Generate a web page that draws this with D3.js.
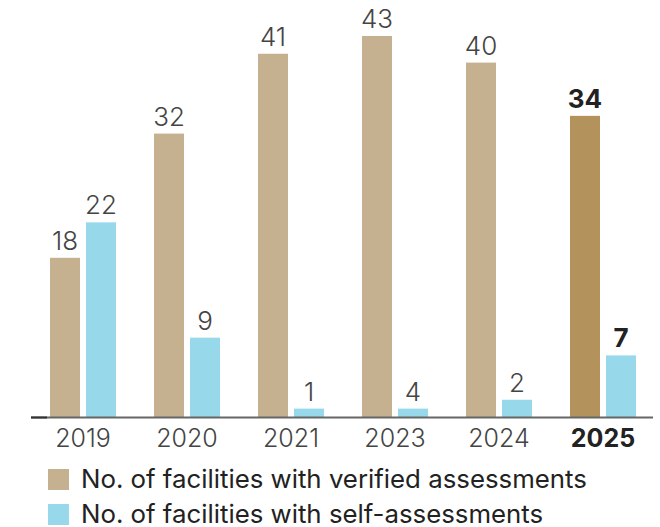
<!DOCTYPE html>
<html>
<head>
<meta charset="utf-8">
<script src="https://cdn.jsdelivr.net/npm/d3@7"></script>
<style>
  body { margin: 0; background: #fff; }
  text { font-family: Inter, "Noto Sans", sans-serif; }
</style>
</head>
<body>
<svg id="chart" width="660" height="527"></svg>
<script>
// values
const years = ["2019", "2020", "2021", "2023", "2024", "2025"];
const verified = [18, 32, 41, 43, 40, 34];
// bar heights as drawn (the 2023 self bar is drawn at the same height as 2021's)
const selfAssessed = [22, 9, 1, 1, 2, 7];
// numbers printed above the self bars
const selfLabels = ["22", "9", "1", "4", "2", "7"];
const legendLabels = ["No. of facilities with verified assessments", "No. of facilities with self-assessments"];

const tan = "#c5b190", tanDark = "#b3925c", blue = "#97d9eb";

const svg = d3.select("#chart"),
    margin = {top: 36, left: 31, right: 7},
    baseline = 417.5;

const x = d3.scaleBand()
    .domain(years)
    .range([margin.left + 7, margin.left + 7 + 104 * 6])
    .paddingInner(0);
const y = d3.scaleLinear()
    .domain([0, 43])
    .range([baseline, margin.top]);

const isLast = (d) => d === "2025";

const groups = svg.selectAll("g.yr")
    .data(years)
  .enter().append("g")
    .attr("class", "yr")
    .attr("transform", (d) => "translate(" + x(d) + ",0)");

// verified bars
groups.append("rect")
    .attr("x", 12)
    .attr("width", 30)
    .attr("y", (d, i) => y(verified[i]))
    .attr("height", (d, i) => baseline - y(verified[i]))
    .attr("fill", (d) => isLast(d) ? tanDark : tan);

// self-assessment bars
groups.append("rect")
    .attr("x", 48)
    .attr("width", 30)
    .attr("y", (d, i) => y(selfAssessed[i]))
    .attr("height", (d, i) => baseline - y(selfAssessed[i]))
    .attr("fill", blue);

// value labels
groups.append("text")
    .attr("x", 27)
    .attr("y", (d, i) => y(verified[i]) - 8)
    .attr("text-anchor", "middle")
    .attr("font-size", 26)
    .attr("font-weight", (d) => isLast(d) ? 700 : 280)
    .attr("fill", (d) => isLast(d) ? "#222" : "#444")
    .text((d, i) => verified[i]);

groups.append("text")
    .attr("x", 63)
    .attr("y", (d, i) => y(selfAssessed[i]) - 8)
    .attr("text-anchor", "middle")
    .attr("font-size", 26)
    .attr("font-weight", (d) => isLast(d) ? 700 : 280)
    .attr("fill", (d) => isLast(d) ? "#222" : "#444")
    .text((d, i) => selfLabels[i]);

// axis line
svg.append("line")
    .attr("x1", margin.left).attr("x2", 653)
    .attr("y1", baseline).attr("y2", baseline)
    .attr("stroke", "#666").attr("stroke-width", 2);
svg.append("line")
    .attr("x1", margin.left).attr("x2", 47)
    .attr("y1", baseline).attr("y2", baseline)
    .attr("stroke", "#333").attr("stroke-width", 2);

// year labels
groups.append("text")
    .attr("x", 45)
    .attr("y", 447)
    .attr("text-anchor", "middle")
    .attr("font-size", 25)
    .attr("font-weight", (d) => isLast(d) ? 700 : 300)
    .attr("fill", (d) => isLast(d) ? "#222" : "#444")
    .text((d) => d);

// legend
const legend = svg.selectAll("g.leg")
    .data(legendLabels)
  .enter().append("g")
    .attr("class", "leg")
    .attr("transform", (d, i) => "translate(48," + (469 + i * 35) + ")");
legend.append("rect")
    .attr("width", 21).attr("height", 21)
    .attr("fill", (d, i) => i === 0 ? tan : blue);
legend.append("text")
    .attr("x", 33)
    .attr("y", 19)
    .attr("font-size", 25.8)
    .attr("fill", "#222")
    .text((d) => d);
</script>
</body>
</html>
